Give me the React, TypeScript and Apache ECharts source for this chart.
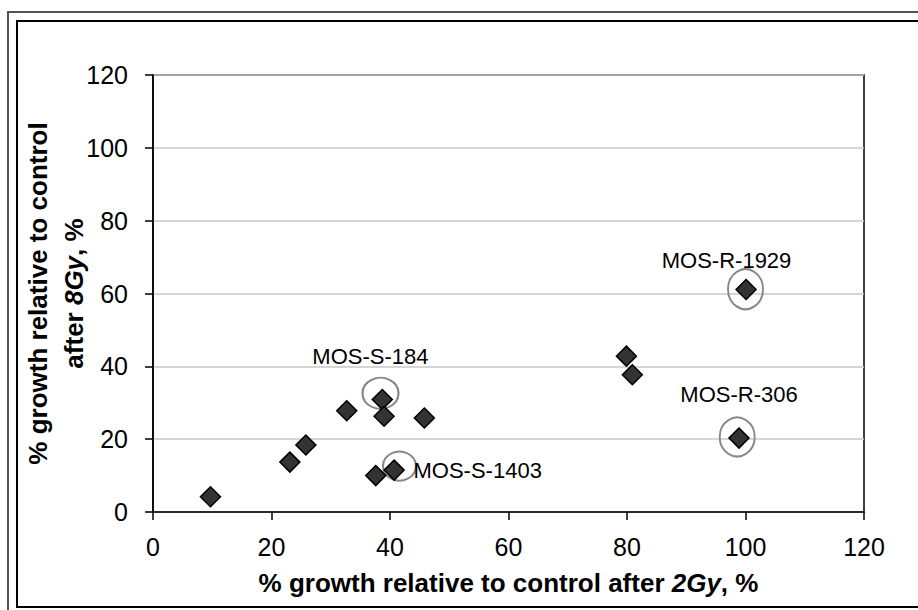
import React, { useEffect, useRef } from "react";
import * as echarts from "echarts";

// Cell lines: [x = % growth after 2Gy, y = % growth after 8Gy]
const pointsX = [9.7, 23.1, 25.8, 32.7, 38.7, 39.0, 45.8, 37.6, 40.7, 79.9, 80.9, 100.1, 98.9];
const pointsY = [4.2, 13.7, 18.4, 27.8, 30.9, 26.3, 25.8, 10.0, 11.5, 42.8, 37.7, 61.1, 20.3];

// Highlighted cell lines (ellipse centres and sizes)
const highlightNames = ["MOS-S-184", "MOS-S-1403", "MOS-R-1929", "MOS-R-306"];
const highlightX = [38.4, 41.6, 100.0, 98.6];
const highlightY = [32.6, 12.6, 61.2, 20.6];
const highlightSize: [number, number][] = [[36, 31], [33, 29], [35, 40], [35, 39]];

// Annotation text anchor positions
const labelX = [36.7, 54.8, 96.8, 98.9];
const labelY = [42.6, 11.4, 69.0, 32.2];

const tickValues = [0, 20, 40, 60, 80, 100, 120];

const FONT = "'Liberation Sans', Arial, sans-serif";

export default function App() {
  const ref = useRef<HTMLDivElement>(null);
  useEffect(() => {
    if (!ref.current) return;
    const chart = echarts.init(ref.current, null, { renderer: "svg" });
    const points = pointsX.map((x, i) => [x, pointsY[i]]);
    const ellipses = highlightX.map((x, i) => ({
      value: [x, highlightY[i]],
      symbolSize: highlightSize[i],
    }));
    const labels = labelX.map((x, i) => ({ value: [x, labelY[i]], name: highlightNames[i] }));

    chart.setOption({
      animation: false,
      backgroundColor: "#fff",
      textStyle: { fontFamily: FONT },
      graphic: [
        {
          type: "rect",
          shape: { x: 8, y: 12, width: 1000, height: 700 },
          style: { fill: "none", stroke: "#555", lineWidth: 2 },
          silent: true,
        },
        {
          type: "rect",
          shape: { x: 17, y: 21, width: 1000, height: 586 },
          style: { fill: "none", stroke: "#000", lineWidth: 2 },
          silent: true,
        },
      ],
      grid: {
        left: 153,
        top: 75,
        right: 54,
        bottom: 98,
        show: true,
        borderColor: "#000",
        borderWidth: 1.5,
        containLabel: false,
        outerBoundsMode: "none",
      },
      xAxis: {
        type: "value",
        min: 0,
        max: 120,
        interval: 20,
        name: "{b|% growth relative to control after }{bi|2Gy}{b|, %}",
        nameLocation: "middle",
        nameGap: 58,
        nameMoveOverlap: false,
        nameTextStyle: {
          rich: {
            b: { fontFamily: FONT, fontWeight: "bold", fontSize: 26, color: "#000" },
            bi: { fontFamily: FONT, fontWeight: "bold", fontStyle: "italic", fontSize: 26, color: "#000" },
          },
        },
        axisLine: { show: true, onZero: false, lineStyle: { color: "#000", width: 1.5 } },
        axisTick: { show: true, inside: false, length: 8, lineStyle: { color: "#000", width: 1.5 } },
        axisLabel: {
          color: "#000",
          fontSize: 25,
          fontFamily: FONT,
          margin: 22,
          formatter: (v: number) => (tickValues.includes(v) ? String(v) : ""),
        },
        splitLine: { show: false },
      },
      yAxis: {
        type: "value",
        min: 0,
        max: 120,
        interval: 20,
        name: "{b|% growth relative to control}\n{b|after }{bi|8Gy}{b|, %}",
        nameLocation: "middle",
        nameGap: 61,
        nameRotate: 90,
        nameMoveOverlap: false,
        nameTextStyle: {
          lineHeight: 36,
          rich: {
            b: { fontFamily: FONT, fontWeight: "bold", fontSize: 26, color: "#000", lineHeight: 36 },
            bi: { fontFamily: FONT, fontWeight: "bold", fontStyle: "italic", fontSize: 26, color: "#000", lineHeight: 36 },
          },
        },
        axisLine: { show: true, onZero: false, lineStyle: { color: "#000", width: 1.5 } },
        axisTick: { show: true, inside: false, length: 8, lineStyle: { color: "#000", width: 1.5 } },
        axisLabel: { color: "#000", fontSize: 25, fontFamily: FONT, margin: 25 },
        splitLine: { show: true, lineStyle: { color: "#c8c8c8", width: 1.5 } },
      },
      series: [
        {
          type: "scatter",
          name: "cell lines",
          symbol: "diamond",
          symbolSize: 20,
          data: points,
          itemStyle: { color: "#333333", borderColor: "#000", borderWidth: 1.5, opacity: 1 },
          z: 3,
        },
        {
          type: "scatter",
          name: "highlight",
          symbol: "circle",
          data: ellipses,
          itemStyle: { color: "rgba(0,0,0,0)", borderColor: "#888888", borderWidth: 2, opacity: 1 },
          z: 2,
        },
        {
          type: "scatter",
          name: "labels",
          symbolSize: 0,
          data: labels,
          itemStyle: { opacity: 1 },
          label: {
            show: true,
            position: "inside",
            formatter: (p: any) => p.name,
            color: "#000",
            opacity: 1,
            fontSize: 22,
            fontFamily: FONT,
          },
          z: 4,
        },
      ],
    });
    return () => chart.dispose();
  }, []);

  return (
    <div
      ref={ref}
      style={{ position: "fixed", left: 0, top: 0, width: 918, height: 610 }}
    />
  );
}
